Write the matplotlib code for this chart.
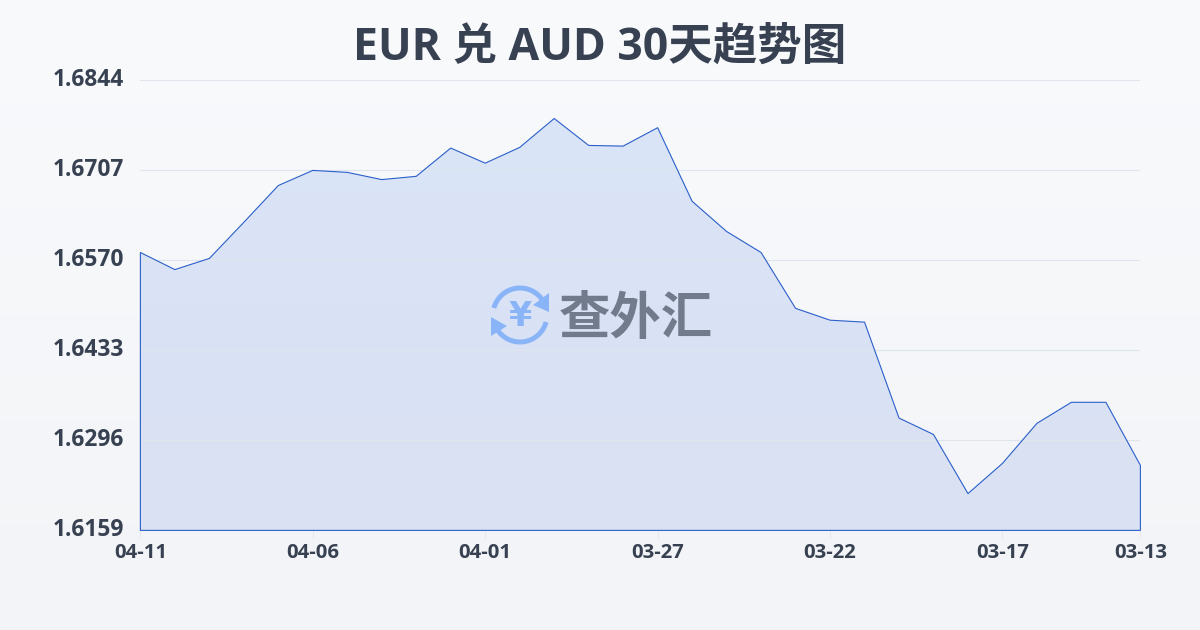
import numpy as np
import matplotlib
matplotlib.use("Agg")
import matplotlib.pyplot as plt
from matplotlib.colors import LinearSegmentedColormap
from matplotlib.patches import Arc, Polygon

plt.rcParams['font.family'] = ['Open Sans', 'Noto Sans CJK SC', 'DejaVu Sans']

title = "EUR 兑 AUD 30天趋势图"
dates = ["04-11", "04-06", "04-01", "03-27", "03-22", "03-17", "03-13"]
y_ticks = [1.6159, 1.6296, 1.6433, 1.6570, 1.6707, 1.6844]
rates = [1.6582, 1.6556, 1.6573, 1.6628, 1.6684, 1.6707, 1.6704, 1.6693, 1.6698, 1.6741,
         1.6718, 1.6742, 1.6786, 1.6745, 1.6744, 1.6772, 1.6660, 1.6614, 1.6582, 1.6497,
         1.6479, 1.6476, 1.6330, 1.6305, 1.6215, 1.6261, 1.6322, 1.6354, 1.6354, 1.6258]

W, H = 1200, 630
fig = plt.figure(figsize=(12, 6.3), dpi=100)

# background gradient
bg = fig.add_axes([0, 0, 1, 1], zorder=0)
bg.imshow(np.linspace(0, 1, 256).reshape(-1, 1), aspect='auto', extent=[0, W, H, 0],
          cmap=LinearSegmentedColormap.from_list("bg", ["#f8fafc", "#f2f4f7"]))
bg.axis('off')

# main chart
ax = fig.add_axes([140.4 / W, 1 - 530.4 / H, 1000 / W, 450 / H], zorder=1)
ax.patch.set_alpha(0)
x = np.arange(len(rates))
ax.set_xlim(0, len(rates) - 1)
ax.set_ylim(y_ticks[0], y_ticks[-1])

# area fill with a soft vertical gradient, clipped to the series
area = ax.fill_between(x, rates, y_ticks[0], facecolor='none', edgecolor='none')
grad = ax.imshow(np.linspace(0, 1, 256).reshape(-1, 1), aspect='auto',
                 extent=[0, len(rates) - 1, y_ticks[0], y_ticks[-1]], zorder=1,
                 cmap=LinearSegmentedColormap.from_list("area", ["#dae5f7", "#d9e1f3"]))
grad.set_clip_path(area.get_paths()[0], transform=ax.transData)

ax.set_yticks(y_ticks)
ax.set_yticklabels([f"{v:.4f}" for v in y_ticks], fontsize=16.4, fontweight='bold', color="#374151")
ax.set_xticks(x[::5][:6].tolist() + [x[-1]])
ax.set_xticklabels(dates, fontsize=14.6, fontweight='bold', color="#374151")
ax.tick_params(axis='y', length=0, pad=12)
ax.tick_params(axis='x', length=6, width=0.8, color="#e5e7eb", pad=3)
for lab in ax.get_yticklabels():
    lab.set_verticalalignment('center')
ax.grid(axis='y', color="#e0e4ec", linewidth=0.8)
ax.set_axisbelow(False)
ax.fill_between(x, rates, y_ticks[0], facecolor='none', edgecolor="#2b5fcb", linewidth=0.8, zorder=4, clip_on=False)
for s in ax.spines.values():
    s.set_visible(False)

fig.text(0.5, 1 - 48 / H, title, ha='center', va='center', fontsize=32, fontweight='bold', color="#374151")

# watermark logo, drawn in pixel coords
ov = fig.add_axes([0, 0, 1, 1], zorder=2)
ov.set_xlim(0, W)
ov.set_ylim(H, 0)
ov.axis('off')
blue = "#8ab4f8"
ov.add_patch(Arc((520, 315), 54, 54, theta1=195, theta2=330, color=blue, lw=3.6))
ov.add_patch(Arc((520, 315), 54, 54, theta1=15, theta2=150, color=blue, lw=3.6))
ov.add_patch(Polygon([[549, 293], [549, 312], [533, 305]], closed=True, color=blue, lw=0))
ov.add_patch(Polygon([[491, 317], [491, 336], [507, 326]], closed=True, color=blue, lw=0))
ov.text(520, 316, "¥", ha='center', va='center', fontsize=24, fontweight='bold', color=blue, family='DejaVu Sans')
ov.text(636, 321, "查外汇", ha='center', va='center', fontsize=37, fontweight='bold', color="#727b8c")

fig.savefig("out.png", dpi=100)
